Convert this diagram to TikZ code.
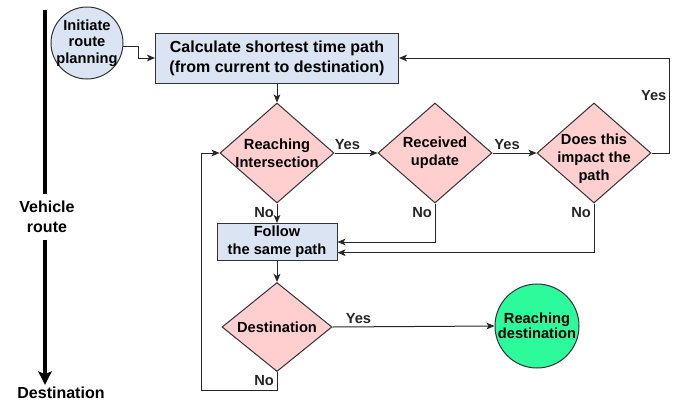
\documentclass[tikz,border=0pt]{standalone}
\usepackage{fontspec}
\setmainfont{Liberation Sans}
\usepackage{xcolor}
\usetikzlibrary{shapes.geometric}
\usetikzlibrary{arrows.meta}
\definecolor{boxblue}{RGB}{218,228,243}
\definecolor{decpink}{RGB}{255,207,207}
\definecolor{goalgreen}{RGB}{44,250,155}

\begin{document}
\begin{tikzpicture}[x=0.75pt,y=-0.75pt,
    txt/.style={align=center,inner sep=0pt,font=\fontsize{11}{13.5}\selectfont\bfseries},
    task/.style={draw=black!80,fill=boxblue,rectangle,line width=0.75pt},
    decide/.style={draw=black!80,fill=decpink,diamond,line width=0.75pt,inner sep=0pt},
    flow/.style={line width=0.75pt,black!85,-{Stealth[length=6pt,width=5pt,inset=1.5pt]}},
    lbl/.style={font=\fontsize{11}{13}\selectfont\bfseries,inner sep=2pt}]
  \useasboundingbox (0,0) rectangle (682,400);

  % vehicle route on the left
  \node[font=\fontsize{12}{15}\selectfont\bfseries,align=center,inner sep=5pt] (veh) at (47,217) {Vehicle\\route};
  \node[font=\fontsize{12}{15}\selectfont\bfseries,inner sep=1pt,anchor=base] (dst) at (61,398) {Destination};
  \coordinate (vtop) at (45,10);
  \draw[line width=3.5pt] (vtop) -- (vtop |- veh.north);
  \draw[line width=3.5pt,-{Stealth[length=10pt,width=10pt,inset=2pt]}] (vtop |- veh.south) -- (vtop |- dst.north);

  % nodes
  \node[circle,draw=black!80,fill=boxblue,line width=0.75pt,minimum size=54pt,
    label={[txt,font=\fontsize{11}{12.5}\selectfont\bfseries]center:{Initiate\\route\\planning}}] (init) at (87,43) {};
  \node[task,minimum width=182.25pt,minimum height=37.5pt,align=center,
    font=\fontsize{12}{15}\selectfont\bfseries] (calc) at (277,58) {Calculate shortest time path\\(from current to destination)};
  \node[decide,minimum width=85.5pt,minimum height=75pt,
    label={[txt]center:{Reaching\\Intersection}}] (inter) at (277,153) {};
  \node[decide,minimum width=85.5pt,minimum height=75pt,
    label={[txt]center:{Received\\update}}] (upd) at (435,153) {};
  \node[decide,minimum width=85.5pt,minimum height=75pt,
    label={[txt,yshift=-4pt]center:{Does this\\impact the\\path}}] (imp) at (594,153) {};
  \node[task,txt,minimum width=90pt,minimum height=27.75pt] (follow) at (277,242) {Follow\\the same path};
  \node[decide,minimum width=82.5pt,minimum height=66.75pt,
    label={[txt]center:Destination}] (dest) at (277,327) {};
  \node[circle,draw=black!80,fill=goalgreen,line width=0.75pt,minimum size=63pt,
    label={[txt,font=\fontsize{11}{11.5}\selectfont\bfseries]center:{Reaching\\destination}}] (goal) at (537,326) {};

  % connectors
  \draw[flow] (init.-6) -- ++(15,0) |- (calc.west);
  \draw[flow] (calc.south) -- (inter.north);
  \draw[flow] (inter.east) -- node[lbl,above,pos=0.3] {Yes} (upd.west);
  \draw[flow] (upd.east) -- node[lbl,above,pos=0.33] {Yes} (imp.west);
  \draw[flow] (imp.east) -- ++(18,0) |- node[lbl,left,pos=0.3] {Yes} (calc.east);
  \draw[flow] (inter.south) -- node[lbl,left,pos=0.45] {No} (follow.north);
  \draw[flow] (upd.south) |- node[lbl,left,pos=0.12] {No} (follow.east);
  \draw[flow] (imp.south) |- node[lbl,left,pos=0.09] {No} (follow.-10);
  \draw[flow] (follow.south) -- (dest.north);
  \draw[flow] (dest.east) -- node[lbl,above,pos=0.16] {Yes} (goal.west);
  \draw[flow] (dest.south) -- node[lbl,left] {No} ++(0,18) -- ++(-76,0) |- (inter.west);
\end{tikzpicture}
\end{document}
